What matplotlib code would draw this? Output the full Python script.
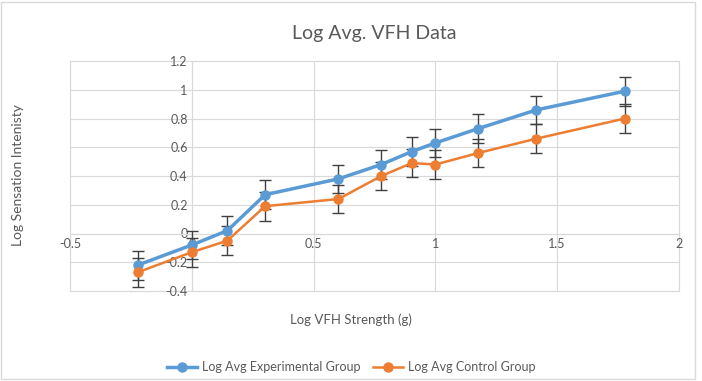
import matplotlib.pyplot as plt
from matplotlib.lines import Line2D
from matplotlib.patches import Rectangle

plt.rcParams['font.family'] = ['Lato', 'DejaVu Sans']

# log10 of the filament strengths
log_strength = [-0.222, 0.0, 0.146, 0.301, 0.602, 0.778, 0.903, 1.0, 1.176, 1.415, 1.778]

exp_group = [-0.22, -0.08, 0.02, 0.27, 0.38, 0.48, 0.57, 0.63, 0.73, 0.86, 0.99]
ctrl_group = [-0.27, -0.13, -0.05, 0.19, 0.24, 0.40, 0.49, 0.48, 0.56, 0.66, 0.80]
exp_err = [0.1] * len(exp_group)
ctrl_err = [0.1] * len(ctrl_group)

x_ticks = [-0.5, 0, 0.5, 1, 1.5, 2]
y_ticks = [-0.4, -0.2, 0, 0.2, 0.4, 0.6, 0.8, 1, 1.2]

blue = '#5B9BD5'
orange = '#ED7D31'
grey_text = '#595959'
grid_col = '#D9D9D9'

fig = plt.figure(figsize=(7.02, 3.81), dpi=100)
ax = fig.add_axes([70 / 702, 1 - 291 / 381, 609 / 702, 230 / 381])

ax.errorbar(log_strength, exp_group, yerr=exp_err, color=blue, lw=2.5,
            marker='o', ms=6.5, ecolor='#404040', elinewidth=1, capsize=4,
            capthick=1, zorder=3)
ax.errorbar(log_strength, ctrl_group, yerr=ctrl_err, color=orange, lw=1.8,
            marker='o', ms=6.5, ecolor='#404040', elinewidth=1, capsize=4,
            capthick=1, zorder=3)

ax.set_xlim(-0.5, 2)
ax.set_ylim(-0.4, 1.2)
ax.set_xticks(x_ticks)
ax.set_yticks(y_ticks)
ax.set_xticklabels(['-0.5', '0', '0.5', '1', '1.5', '2'])
ax.set_yticklabels(['-0.4', '-0.2', '0', '0.2', '0.4', '0.6', '0.8', '1', '1.2'])
ax.grid(True, color=grid_col, lw=0.8, zorder=0)
ax.set_axisbelow(True)

# outer gridlines at the limits
for xv in [x_ticks[0], x_ticks[-1]]:
    ax.axvline(xv, color=grid_col, lw=0.8, clip_on=False, zorder=0)
for yv in [y_ticks[0], y_ticks[-1]]:
    ax.axhline(yv, color=grid_col, lw=0.8, clip_on=False, zorder=0)

for side in ['top', 'right']:
    ax.spines[side].set_visible(False)
ax.spines['left'].set_position(('data', 0))
ax.spines['bottom'].set_position(('data', 0))
ax.spines['left'].set_color(grid_col)
ax.spines['bottom'].set_color(grid_col)
ax.tick_params(length=0, colors=grey_text, labelsize=9, pad=3)

ax.set_title('Log Avg. VFH Data', color=grey_text, fontsize=14, pad=16)
fig.text(0.5, 0.16, 'Log VFH Strength (g)', ha='center', va='center',
         color=grey_text, fontsize=9.5)
fig.text(0.026, 0.54, 'Log Sensation Intenisty', ha='center', va='center',
         rotation=90, color=grey_text, fontsize=10)

handles = [Line2D([], [], color=blue, lw=2.5, marker='o', ms=6.5),
           Line2D([], [], color=orange, lw=1.8, marker='o', ms=6.5)]
fig.legend(handles, ['Log Avg Experimental Group', 'Log Avg Control Group'],
           loc='center', bbox_to_anchor=(0.5, 0.037), ncol=2, frameon=False,
           fontsize=9, labelcolor=grey_text, handlelength=2.4,
           handletextpad=0.4, columnspacing=1.0)

fig.patches.append(Rectangle((0.002, 0.004), 0.988, 0.99, transform=fig.transFigure,
                             fill=False, ec=grid_col, lw=1))

fig.savefig('out.png', dpi=100)
